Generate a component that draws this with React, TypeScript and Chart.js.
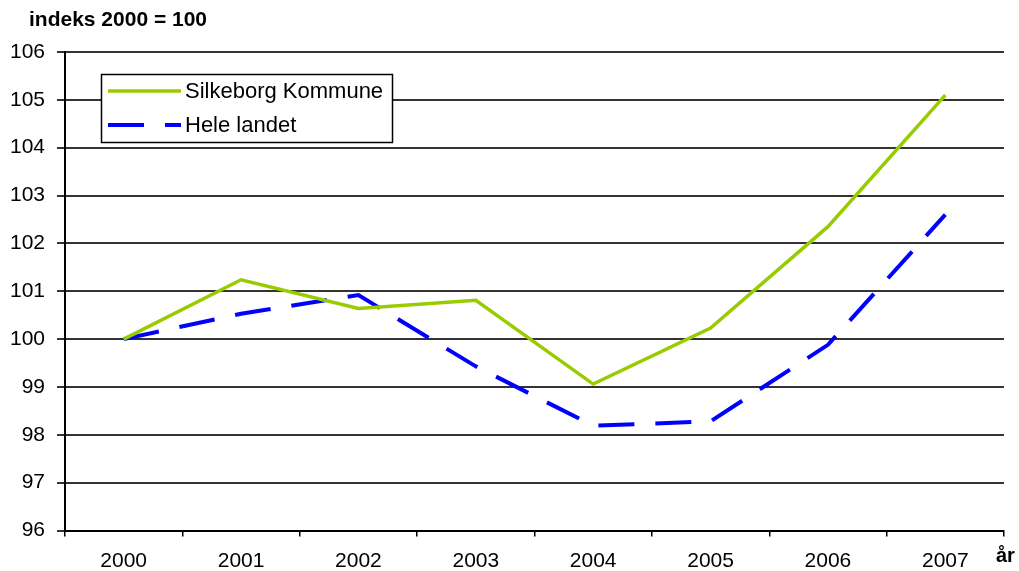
import React, { useEffect, useRef } from "react";
import { Chart, registerables } from "chart.js";

Chart.register(...registerables);

const years = ["2000", "2001", "2002", "2003", "2004", "2005", "2006", "2007"];
const silkeborg = [100, 101.24, 100.64, 100.81, 99.06, 100.23, 102.35, 105.1];
const heleLandet = [100, 100.53, 100.92, 99.43, 98.19, 98.28, 99.88, 102.6];
const seriesNames = ["Silkeborg Kommune", "Hele landet"];
const titleText = "indeks 2000 = 100";
const xAxisUnit = "år";
const yMin = 96;
const yMax = 106;

const FONT = "'Liberation Sans', Arial, sans-serif";

const overlayPlugin = {
  id: "overlay",
  afterDraw(chart: any) {
    const ctx = chart.ctx;
    ctx.save();
    // title
    ctx.fillStyle = "#000";
    ctx.font = `bold 21px ${FONT}`;
    ctx.textBaseline = "middle";
    ctx.textAlign = "left";
    ctx.fillText(titleText, 29, 20);
    // axis unit
    ctx.font = `bold 20px ${FONT}`;
    ctx.fillText(xAxisUnit, 996, 556);

    // legend box
    const bx = 101.5, by = 74.5, bw = 291, bh = 68;
    ctx.fillStyle = "#fff";
    ctx.fillRect(bx, by, bw, bh);
    ctx.strokeStyle = "#000";
    ctx.lineWidth = 1.5;
    ctx.strokeRect(bx, by, bw, bh);

    const ds = chart.data.datasets;
    const rows = [91, 125];
    ds.forEach((d: any, i: number) => {
      const y = rows[i];
      ctx.beginPath();
      ctx.strokeStyle = d.borderColor;
      ctx.lineWidth = d.borderWidth;
      ctx.setLineDash(d.borderDash || []);
      ctx.moveTo(108, y);
      ctx.lineTo(181, y);
      ctx.stroke();
      ctx.setLineDash([]);
      ctx.fillStyle = "#000";
      ctx.font = `22px ${FONT}`;
      ctx.textBaseline = "middle";
      ctx.fillText(d.label, 185, y + 1);
    });
    ctx.restore();
  },
};

export default function App() {
  const ref = useRef<HTMLCanvasElement>(null);

  useEffect(() => {
    if (!ref.current) return;
    const chart = new Chart(ref.current, {
      type: "line",
      data: {
        labels: years,
        datasets: [
          {
            label: seriesNames[0],
            data: silkeborg,
            borderColor: "#99CC00",
            backgroundColor: "#99CC00",
            borderWidth: 3.5,
            pointRadius: 0,
            tension: 0,
          },
          {
            label: seriesNames[1],
            data: heleLandet,
            borderColor: "#0000FF",
            backgroundColor: "#0000FF",
            borderWidth: 4,
            borderDash: [36, 21],
            pointRadius: 0,
            tension: 0,
          },
        ],
      },
      options: {
        animation: false,
        responsive: false,
        layout: { padding: { top: 52, right: 15, bottom: 0, left: 0 } },
        plugins: {
          legend: { display: false },
          tooltip: { enabled: false },
          title: { display: false },
        },
        scales: {
          x: {
            offset: true,
            afterFit: (s: any) => {
              s.height = 40.5;
            },
            grid: {
              offset: true,
              drawOnChartArea: false,
              drawTicks: true,
              tickLength: 6,
              color: "#000",
              lineWidth: 1.5,
            },
            border: { display: true, color: "#000", width: 2 },
            ticks: {
              color: "#000",
              font: { family: FONT, size: 21 },
              padding: 12,
              maxRotation: 0,
            },
          },
          y: {
            min: yMin,
            max: yMax,
            afterFit: (s: any) => {
              s.width = 65;
            },
            grid: {
              color: "#333",
              lineWidth: 2,
              tickLength: 8,
            },
            border: { display: true, color: "#000", width: 2 },
            ticks: {
              stepSize: 1,
              color: "#000",
              font: { family: FONT, size: 21 },
              padding: 12,
            },
          },
        },
      },
      plugins: [overlayPlugin],
    });
    return () => chart.destroy();
  }, []);

  return (
    <div style={{ position: "fixed", left: 0, top: 0, width: 1019, height: 571, background: "#fff" }}>
      <canvas ref={ref} width={1019} height={571} style={{ display: "block" }} />
    </div>
  );
}
